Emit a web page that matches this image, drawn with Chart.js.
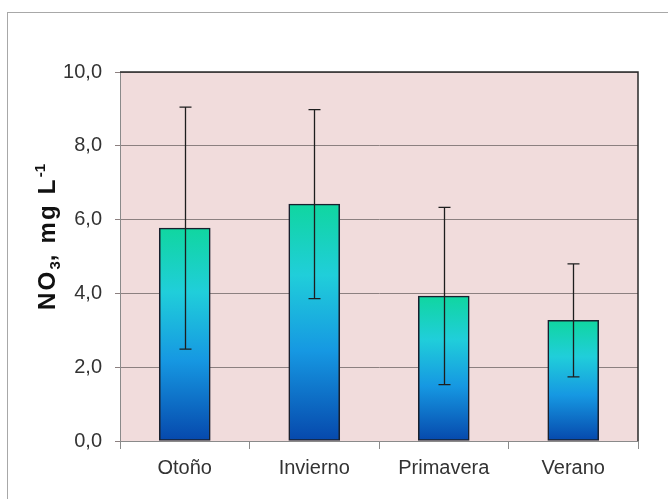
<!DOCTYPE html>
<html>
<head>
<meta charset="utf-8">
<script src="https://cdn.jsdelivr.net/npm/chart.js@4.4.1/dist/chart.umd.min.js"></script>
<style>
  html, body { margin: 0; padding: 0; background: #fff; overflow: hidden; }
  #frame { position: absolute; left: 7px; top: 12px; width: 700px; height: 600px; border: 1px solid #a8a8a8; }
  #wrap { position: absolute; left: 0; top: 0; width: 668px; height: 499px; }
</style>
</head>
<body>
<div id="frame"></div>
<div id="wrap"><canvas id="nitrato" width="668" height="499"></canvas></div>
<script>
// estaciones y nitrato medio (mg/L) con su desviacion
var estaciones = ["Otoño", "Invierno", "Primavera", "Verano"];
var medias = [5.77, 6.42, 3.93, 3.27];
var desvios = [3.28, 2.56, 2.40, 1.53];
var yTicks = [0, 2, 4, 6, 8, 10];

var fuenteEje = "'Liberation Sans', Arial, sans-serif";

function degradado(ctx) {
	var chart = ctx.chart;
	var y = chart.scales.y;
	if (!y || !ctx.parsed) return '#1ab0d8';
	var top = y.getPixelForValue(ctx.parsed.y);
	var base = y.getPixelForValue(0);
	if (!isFinite(top) || !isFinite(base) || top === base) return '#1ab0d8';
	var g = chart.ctx.createLinearGradient(0, top, 0, base);
	g.addColorStop(0, 'rgb(16,214,160)');
	g.addColorStop(0.3, 'rgb(32,206,218)');
	g.addColorStop(0.62, 'rgb(22,152,226)');
	g.addColorStop(1, 'rgb(6,72,172)');
	return g;
}

// fondo rosado y bordes superior/derecho del area de trazado
var fondo = {
	id: 'fondo',
	beforeDraw: function(chart) {
		var a = chart.chartArea, c = chart.ctx;
		c.save();
		c.fillStyle = '#f1dcdc';
		c.fillRect(a.left, a.top, a.right - a.left, a.bottom - a.top);
		c.restore();
	},
	afterDatasetsDraw: function(chart) {
		var a = chart.chartArea, c = chart.ctx;
		c.save();
		c.strokeStyle = '#2a2a2a';
		c.lineWidth = 1.5;
		c.beginPath();
		c.moveTo(a.left, a.top);
		c.lineTo(a.right, a.top);
		c.lineTo(a.right, a.bottom);
		c.stroke();
		c.restore();
	}
};

// barras de error
var errores = {
	id: 'errores',
	afterDatasetsDraw: function(chart) {
		var c = chart.ctx, y = chart.scales.y;
		var meta = chart.getDatasetMeta(0);
		c.save();
		c.strokeStyle = '#1e1e1e';
		c.lineWidth = 1.3;
		meta.data.forEach(function(bar, i) {
			var x = Math.round(bar.x) + 0.5;
			var y1 = y.getPixelForValue(medias[i] + desvios[i]);
			var y2 = y.getPixelForValue(medias[i] - desvios[i]);
			c.beginPath();
			c.moveTo(x, y1); c.lineTo(x, y2);
			c.moveTo(x - 6, y1); c.lineTo(x + 6, y1);
			c.moveTo(x - 6, y2); c.lineTo(x + 6, y2);
			c.stroke();
		});
		c.restore();
	}
};

// titulo del eje Y con subindice y superindice
var tituloY = {
	id: 'tituloY',
	afterDraw: function(chart) {
		var c = chart.ctx;
		var partes = [
			{ t: 'NO', s: 24, dy: 0 },
			{ t: '3', s: 15, dy: 5 },
			{ t: ', mg L', s: 24, dy: 0 },
			{ t: '-1', s: 15, dy: -10 }
		];
		c.save();
		var total = 0;
		partes.forEach(function(p) {
			c.font = 'bold ' + p.s + 'px "Liberation Sans", Arial, sans-serif';
			p.w = c.measureText(p.t).width + (p.s > 20 ? p.t.length * 2.2 : 0);
			total += p.w;
		});
		c.translate(55, 237);
		c.rotate(-Math.PI / 2);
		c.fillStyle = '#111';
		c.textBaseline = 'alphabetic';
		var x = -total / 2;
		partes.forEach(function(p) {
			c.font = 'bold ' + p.s + 'px "Liberation Sans", Arial, sans-serif';
			c.letterSpacing = (p.s > 20 ? 2.2 : 0) + 'px';
			c.fillText(p.t, x, p.dy);
			x += p.w;
		});
		c.restore();
	}
};

new Chart(document.getElementById('nitrato'), {
	type: 'bar',
	data: {
		labels: estaciones,
		datasets: [{
			data: medias,
			backgroundColor: degradado,
			borderColor: '#18202e',
			borderWidth: 1.6,
			borderSkipped: false,
			barThickness: 51
		}]
	},
	options: {
		responsive: false,
		animation: false,
		layout: { padding: { left: 0, right: 30, top: 72, bottom: 0 } },
		plugins: { legend: { display: false }, tooltip: { enabled: false } },
		scales: {
			x: {
				offset: true,
				grid: { offset: true, drawOnChartArea: false, tickLength: 8, color: '#8a8a8a' },
				border: { color: '#8a8a8a', width: 1 },
				ticks: { color: '#333', padding: 7, font: { family: fuenteEje, size: 20 } },
				afterFit: function(s) { s.height = 58; }
			},
			y: {
				min: 0,
				max: 10,
				afterBuildTicks: function(s) { s.ticks = yTicks.map(function(v) { return { value: v }; }); },
				grid: { color: '#8c8080', lineWidth: 1, tickLength: 5 },
				border: { color: '#8a8a8a', width: 1 },
				ticks: {
					color: '#333',
					padding: 13,
					font: { family: fuenteEje, size: 20 },
					callback: function(v) { return v.toFixed(1).replace('.', ','); }
				},
				afterFit: function(s) { s.width = 120; }
			}
		}
	},
	plugins: [fondo, errores, tituloY]
});
</script>
</body>
</html>
